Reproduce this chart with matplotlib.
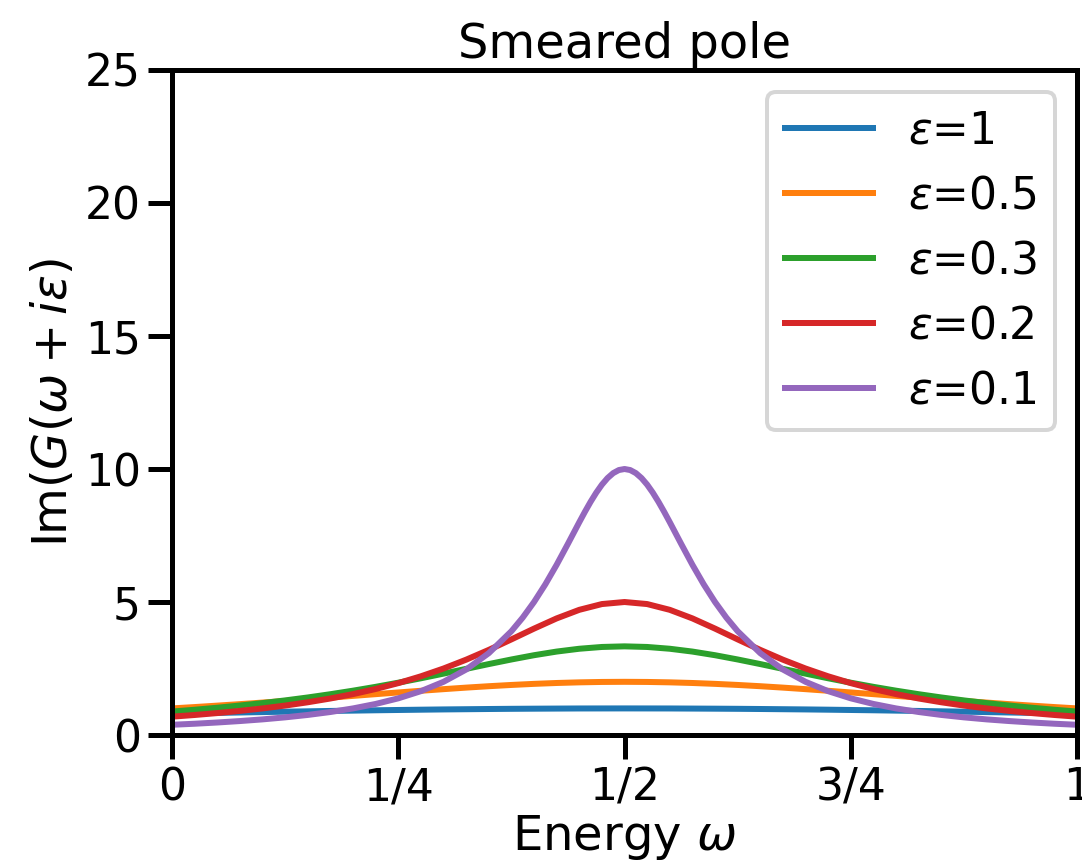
import matplotlib
matplotlib.use("Agg")
import matplotlib.pyplot as plt
import seaborn as sns

sns.set_context("poster")

# energy grid
omega = [0.0, 0.025, 0.05, 0.075, 0.1, 0.125, 0.15, 0.175, 0.2, 0.225, 0.25,
         0.275, 0.3, 0.325, 0.35, 0.375, 0.4, 0.425, 0.45, 0.475, 0.5,
         0.525, 0.55, 0.575, 0.6, 0.625, 0.65, 0.675, 0.7, 0.725, 0.75,
         0.775, 0.8, 0.825, 0.85, 0.875, 0.9, 0.925, 0.95, 0.975, 1.0]

half_eps1 = [0.800, 0.816, 0.832, 0.847, 0.862, 0.877, 0.891, 0.905, 0.917, 0.930,
             0.941, 0.952, 0.962, 0.970, 0.978, 0.985, 0.990, 0.994, 0.998, 0.999, 1.000]
half_eps05 = [1.000, 1.051, 1.105, 1.161, 1.220, 1.280, 1.342, 1.406, 1.471, 1.536,
              1.600, 1.663, 1.724, 1.782, 1.835, 1.882, 1.923, 1.956, 1.980, 1.995, 2.000]
half_eps03 = [0.882, 0.950, 1.026, 1.109, 1.200, 1.301, 1.412, 1.534, 1.667, 1.811,
              1.967, 2.133, 2.308, 2.487, 2.667, 2.840, 3.000, 3.137, 3.243, 3.310, 3.333]
half_eps02 = [0.690, 0.753, 0.825, 0.907, 1.000, 1.107, 1.231, 1.373, 1.538, 1.730,
              1.951, 2.207, 2.500, 2.832, 3.200, 3.595, 4.000, 4.384, 4.706, 4.923, 5.000]

# curves are symmetric about 1/2
eps1 = half_eps1 + half_eps1[-2::-1]
eps05 = half_eps05 + half_eps05[-2::-1]
eps03 = half_eps03 + half_eps03[-2::-1]
eps02 = half_eps02 + half_eps02[-2::-1]

# the sharp one needs more points near the peak
half_omega_fine = [0.0, 0.025, 0.05, 0.075, 0.1, 0.125, 0.15, 0.175, 0.2, 0.225, 0.25,
                   0.275, 0.3, 0.325, 0.35, 0.375, 0.3875, 0.4, 0.4125, 0.425, 0.4375,
                   0.45, 0.45625, 0.4625, 0.46875, 0.475, 0.48125, 0.4875, 0.49375, 0.5]
half_eps01 = [0.385, 0.424, 0.471, 0.525, 0.588, 0.664, 0.755, 0.865, 1.000, 1.168,
              1.379, 1.649, 2.000, 2.462, 3.077, 3.902, 4.414, 5.000, 5.664, 6.400,
              7.191, 8.000, 8.393, 8.767, 9.110, 9.412, 9.660, 9.846, 9.961, 10.000]
omega_fine = half_omega_fine + [1.0 - w for w in half_omega_fine[-2::-1]]
eps01 = half_eps01 + half_eps01[-2::-1]

labels = ["1", "0.5", "0.3", "0.2", "0.1"]

fig = plt.figure(figsize=(1082 / 144, 863 / 144), dpi=144)
ax = fig.add_axes([0.159, 0.1483, 0.8364, 0.7706])

ax.plot(omega, eps1, label=r"$\varepsilon$=" + labels[0])
ax.plot(omega, eps05, label=r"$\varepsilon$=" + labels[1])
ax.plot(omega, eps03, label=r"$\varepsilon$=" + labels[2])
ax.plot(omega, eps02, label=r"$\varepsilon$=" + labels[3])
ax.plot(omega_fine, eps01, label=r"$\varepsilon$=" + labels[4])

ax.set_xlim(0, 1)
ax.set_ylim(0, 25)
ax.set_xticks([0, 0.25, 0.5, 0.75, 1])
ax.set_xticklabels(["0", "1/4", "1/2", "3/4", "1"])
ax.set_yticks([0, 5, 10, 15, 20, 25])
ax.set_xlabel(r"Energy $\omega$", labelpad=2)
ax.set_ylabel(r"Im$(G(\omega+i\varepsilon)$")
ax.set_title("Smeared pole")
ax.legend(loc="upper right")

# the reference is cropped at the right edge, so the "1" is cut as well
fig.savefig("out.png", dpi=144)
